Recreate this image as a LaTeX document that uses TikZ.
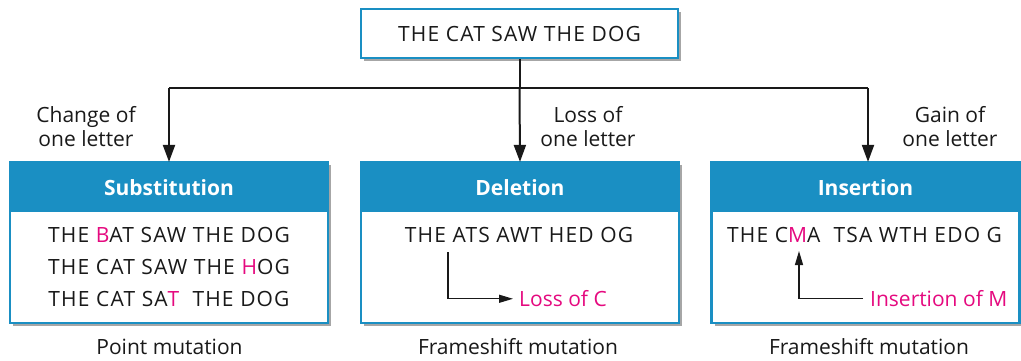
\documentclass[tikz,border=0pt]{standalone}
\usepackage{fontspec}
\setmainfont{Open Sans}
\newfontfamily\capsfont[LetterSpace=5.5]{Open Sans}
\usetikzlibrary{arrows.meta,shadows}
\definecolor{hblue}{HTML}{1A8FC3}
\definecolor{mag}{HTML}{E5097F}
\tikzset{
  txt/.style={font=\fontsize{21}{25}\selectfont, inner sep=0pt, anchor=base, text=black!90},
  ctxt/.style={font=\capsfont\fontsize{21}{25}\selectfont, inner sep=0pt, anchor=base, text=black!90},
  hdr/.style={font=\bfseries\fontsize{21}{25}\selectfont, inner sep=0pt, anchor=base, text=white},
  pinktxt/.style={txt, text=mag, anchor=base west},
  panel/.style={draw=hblue, line width=2.2pt, fill=white, minimum width=318pt, minimum height=161pt, inner sep=0pt,
     drop shadow={shadow xshift=3pt, shadow yshift=-3pt, opacity=0.35, fill=black}},
  band/.style={fill=hblue, draw=hblue, line width=2.2pt, minimum width=318pt, minimum height=49pt, inner sep=0pt, anchor=north},
  topbox/.style={draw=hblue, line width=2.2pt, fill=white, minimum width=317pt, minimum height=49pt, inner sep=0pt,
     drop shadow={shadow xshift=3pt, shadow yshift=-3pt, opacity=0.35, fill=black}},
  conn/.style={line width=2pt, draw=black!90},
  connarrow/.style={conn, -{Triangle[length=17pt,width=12pt]}},
  inarrow/.style={line width=1.3pt, draw=black!90, -{Triangle[length=14pt,width=8pt]}},
}
\begin{document}
\begin{tikzpicture}[x=1pt,y=-1pt]
\useasboundingbox (0,0) rectangle (1021,360);

% top box
\node[topbox] (top) at (519.5,33.5) {};
\node[ctxt] (toptxt) at (519.5,41.5) {THE CAT SAW THE DOG};

% panels
\node[panel] (sub) at (169,242.5) {};
\node[band] (subh) at (sub.north) {};
\node[hdr] (subt) at (169,195) {Substitution};

\node[panel] (del) at (520,242.5) {};
\node[band] (delh) at (del.north) {};
\node[hdr] (delt) at (520,195) {Deletion};

\node[panel, minimum width=308pt] (ins) at (865.5,242.5) {};
\node[band, minimum width=308pt] (insh) at (ins.north) {};
\node[hdr] (inst) at (865.5,195) {Insertion};

% connectors
\coordinate (jmid) at (519.5,88);
\coordinate (jl) at (sub.north |- jmid);
\coordinate (jr) at (868,88);
\draw[conn] (top.south) -- (jmid);
\draw[conn] (jl) -- (jr);
\draw[connarrow] (jl) -- ([yshift=-1pt]sub.north);
\draw[connarrow] (jmid) -- ([yshift=-1pt]del.north);
\draw[connarrow] (jr) -- ([yshift=-1pt]ins.north -| jr);

% labels
\node[txt] (l1a) at (86,122) {Change of};
\node[txt] (l1b) at (86,146.5) {one letter};
\node[txt] (l2a) at (588,122) {Loss of};
\node[txt] (l2b) at (588,146.5) {one letter};
\node[txt] (l3a) at (950,122) {Gain of};
\node[txt] (l3b) at (950,146.5) {one letter};

% substitution text
\node[ctxt] (s1) at (169,242.7) {THE {\color{mag}B}AT SAW THE DOG};
\node[ctxt] (s2) at (169,274.5) {THE CAT SAW THE {\color{mag}H}OG};
\node[ctxt] (s3) at (169,306.7) {THE CAT SA{\color{mag}T}\ \ THE DOG};

% deletion text
\node[ctxt] (d1) at (519,242.7) {THE ATS AWT HED OG};
\node[pinktxt] (lossc) at (519,306.7) {Loss of C};
\coordinate (dA) at (448,252);
\draw[inarrow] (dA) |- ([xshift=-6pt]lossc.west);

% insertion text
\node[ctxt, anchor=base west] (i1) at (727,242.7) {THE C{\color{mag}M}A\ \ TSA WTH EDO G};
\node[pinktxt] (insm) at (870,306.7) {Insertion of M};
\coordinate (iA) at (799,251);
\draw[inarrow] ([xshift=-7pt]insm.west) -| (iA);

% captions
\node[txt] (c1) at (169.5,354) {Point mutation};
\node[txt] (c2) at (518,354) {Frameshift mutation};
\node[txt] (c3) at (869,354) {Frameshift mutation};
\end{tikzpicture}
\end{document}
